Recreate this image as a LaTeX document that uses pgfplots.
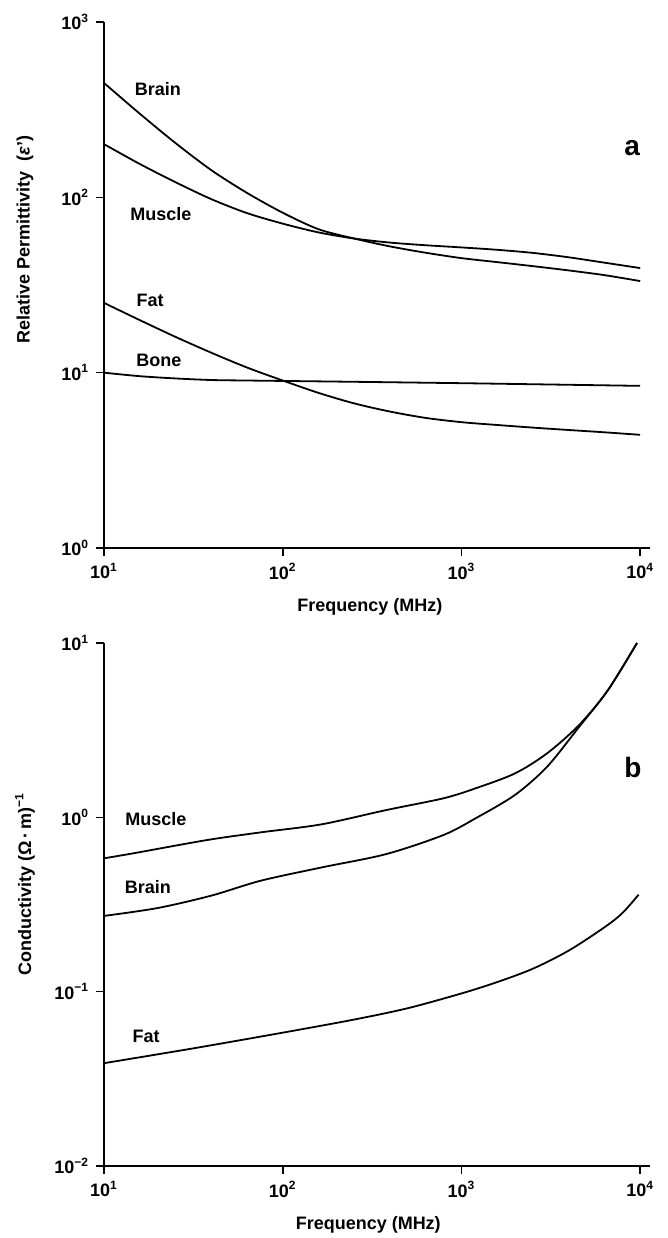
\documentclass[border=0pt]{standalone}
\usepackage{fontspec}
\setmainfont{Liberation Sans}
\usepackage{pgfplots}
\usepackage{pgfplotstable}
\pgfplotsset{compat=1.18}

\pgfplotstableread{
f eps
10 449
15.85 300
25.12 204
39.81 143
63.1 106
100 81.7
158.5 65.8
251.2 58.2
398.1 52.5
631 48.3
1000 45.0
1585 42.7
2512 40.5
3981 38.3
6310 36.0
10000 33.3
}\brainEps
\pgfplotstableread{
f eps
10 201
15.85 155
25.12 122
39.81 97.7
63.1 81.3
100 70.8
158.5 63.1
251.2 58.2
398.1 55.2
631 53.3
1000 51.8
1585 50.2
2512 48.2
3981 45.5
6310 42.4
10000 39.5
}\muscleEps
\pgfplotstableread{
f eps
10 25.0
15.85 19.95
25.12 16.0
39.81 13.0
63.1 10.7
100 9.02
158.5 7.67
251.2 6.68
398.1 6.00
631 5.52
1000 5.22
1585 5.03
2512 4.86
3981 4.71
6310 4.57
10000 4.42
}\fatEps
\pgfplotstableread{
f eps
10 10.0
15.85 9.55
25.12 9.27
39.81 9.08
63.1 9.02
100 8.97
251.2 8.87
1000 8.71
2512 8.59
10000 8.41
}\boneEps
\pgfplotstableread{
f s
10 0.582
15.0 0.625
37.7 0.741
75.3 0.820
165 0.912
378 1.10
791 1.285
1197 1.466
1991 1.786
3013 2.328
4560 3.39
6607 5.37
9600 10.0
}\muscleSig
\pgfplotstableread{
f s
10 0.272
20 0.302
40 0.356
75.3 0.433
165 0.516
378 0.615
791 0.791
1197 0.986
1991 1.343
3013 1.95
4560 3.31
6607 5.37
9600 10.0
}\brainSig
\pgfplotstableread{
f s
10 0.0389
31.6 0.0473
100 0.0582
251 0.0692
501 0.0804
1000 0.0977
1585 0.1135
2512 0.1355
3981 0.172
6310 0.234
7943 0.282
9800 0.36
}\fatSig

\begin{document}
\begin{tikzpicture}[font=\fontsize{9}{10}\selectfont\bfseries]
\begin{axis}[
  width=273pt, height=263pt, scale only axis,
  xmode=log, ymode=log,
  xmin=10, xmax=11350, ymin=1, ymax=1000,
  at={(0pt,0pt)}, anchor=south west,
  axis x line=bottom, axis y line=left, axis line style={-, line width=0.9pt},
  tick align=outside, major tick length=4pt, tick style={line width=0.8pt, black},
  xminorticks=false, yminorticks=false,
  xtick={10,100,1000,10000},
  xticklabels={10\textsuperscript{1},10\textsuperscript{2},10\textsuperscript{3},10\textsuperscript{4}},
  ytick={1,10,100,1000},
  yticklabels={10\textsuperscript{0},10\textsuperscript{1},10\textsuperscript{2},10\textsuperscript{3}},
  xlabel={Frequency (MHz)},
  xlabel style={at={(axis description cs:0.487,0)}, anchor=center, yshift=-29.5pt},
  ylabel={Relative Permittivity\ \ (\textit{ε}')},
  ylabel style={at={(axis description cs:0,0.586)}, anchor=center, yshift=39.5pt},
  clip=false,
]
\addplot[black, line width=0.9pt, smooth, no marks] table[x=f,y=eps] {\brainEps};
\addplot[black, line width=0.9pt, smooth, no marks] table[x=f,y=eps] {\muscleEps};
\addplot[black, line width=0.9pt, smooth, no marks] table[x=f,y=eps] {\fatEps};
\addplot[black, line width=0.9pt, smooth, no marks] table[x=f,y=eps] {\boneEps};
\node at (axis cs:20,415) {Brain};
\node at (axis cs:20.8,80.4) {Muscle};
\node at (axis cs:18.1,25.9) {Fat};
\node at (axis cs:20.3,11.8) {Bone};
\node[font=\fontsize{14}{14}\selectfont\bfseries] at (axis cs:9020,191) {a};
\end{axis}
\begin{axis}[
  width=273pt, height=261.5pt, scale only axis,
  xmode=log, ymode=log,
  xmin=10, xmax=11350, ymin=0.01, ymax=10,
  at={(0pt,-309pt)}, anchor=south west,
  axis x line=bottom, axis y line=left, axis line style={-, line width=0.9pt},
  tick align=outside, major tick length=4pt, tick style={line width=0.8pt, black},
  xminorticks=false, yminorticks=false,
  xtick={10,100,1000,10000},
  xticklabels={10\textsuperscript{1},10\textsuperscript{2},10\textsuperscript{3},10\textsuperscript{4}},
  ytick={0.01,0.1,1,10},
  yticklabels={10\textsuperscript{−2},10\textsuperscript{−1},10\textsuperscript{0},10\textsuperscript{1}},
  xlabel={Frequency (MHz)},
  xlabel style={at={(axis description cs:0.484,0)}, anchor=center, yshift=-29.5pt},
  ylabel={Conductivity (Ω\,·\,m)\textsuperscript{−1}},
  ylabel style={at={(axis description cs:0,0.539)}, anchor=center, yshift=39.5pt},
  clip=false,
]
\addplot[black, line width=0.9pt, smooth, no marks] table[x=f,y=s] {\muscleSig};
\addplot[black, line width=0.9pt, smooth, no marks] table[x=f,y=s] {\brainSig};
\addplot[black, line width=0.9pt, smooth, no marks] table[x=f,y=s] {\fatSig};
\node at (axis cs:19.5,0.977) {Muscle};
\node at (axis cs:17.6,0.398) {Brain};
\node at (axis cs:17.2,0.0556) {Fat};
\node[font=\fontsize{14}{14}\selectfont\bfseries] at (axis cs:9120,1.92) {b};
\end{axis}
\pgfresetboundingbox
\useasboundingbox (-52pt,-345pt) rectangle (282pt,274pt);
\end{tikzpicture}
\end{document}
